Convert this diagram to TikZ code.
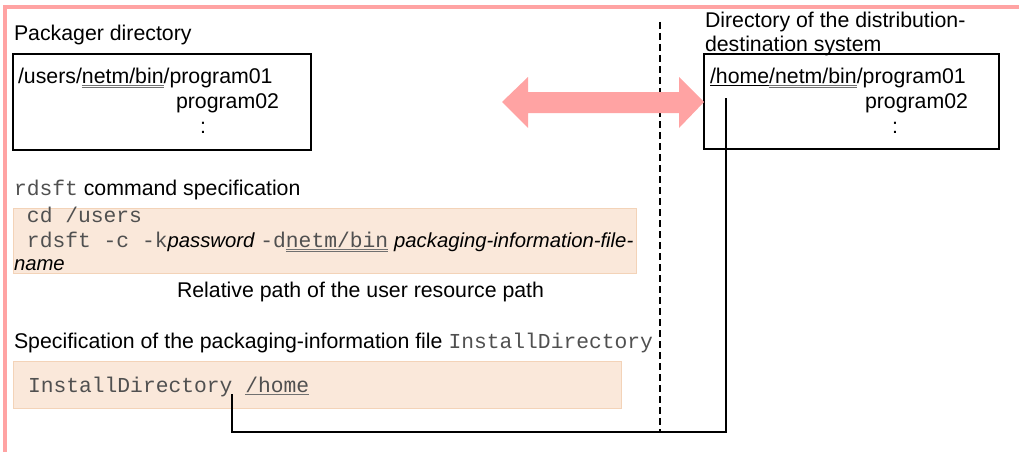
\documentclass[tikz,border=0pt]{standalone}
\usepackage{fontspec}
\setmainfont{Liberation Sans}
\setsansfont{Liberation Sans}
\setmonofont{Liberation Mono}
\definecolor{framepink}{HTML}{FFA3A3}
\definecolor{arrowpink}{HTML}{FFA3A3}
\definecolor{peachfill}{HTML}{FAE8DA}
\definecolor{peachline}{HTML}{F3D3B8}
\definecolor{ulgray}{HTML}{707070}
\definecolor{monogray}{HTML}{505050}
\newsavebox\myulbox
\newcommand{\myul}[1]{\sbox\myulbox{#1}\rlap{\color{black}\rule[-2.6pt]{\wd\myulbox}{0.9pt}}\usebox\myulbox}
\newcommand{\mygul}[1]{\sbox\myulbox{#1}\rlap{\color{ulgray}\rule[-2.8pt]{\wd\myulbox}{0.9pt}}\usebox\myulbox}
\newcommand{\mydul}[1]{\sbox\myulbox{#1}\rlap{\color{ulgray}\rule[-2.6pt]{\wd\myulbox}{0.7pt}}\rlap{\color{ulgray}\rule[-5.1pt]{\wd\myulbox}{0.7pt}}\usebox\myulbox}
\newcommand{\mono}[1]{{\ttfamily\color{monogray}#1}}
\newcommand{\argit}[1]{{\fontsize{20.3}{25}\selectfont\itshape #1}}
\begin{document}
\begin{tikzpicture}[x=1pt,y=-1pt,
  txt/.style={anchor=base west,inner sep=0pt,outer sep=0pt,font=\fontsize{21.3}{25}\selectfont},
  dirbox/.style={draw=black,line width=1.4pt},
  codebox/.style={fill=peachfill,draw=peachline,line width=1pt},
  link/.style={draw=black,line width=1.4pt},
  sep/.style={draw=black,line width=1.4pt,dash pattern=on 7pt off 4pt}]
\useasboundingbox (0,0) rectangle (1019,452);
% frame
\fill[framepink] (3,5) rectangle (1019,9);
\fill[framepink] (3,5) rectangle (7,452);
% separator
\draw[sep] (660,22) -- (660,432);
% boxes
\draw[dirbox] (13,54) rectangle (311,150);
\draw[dirbox] (704,54) rectangle (999,149);
\draw[codebox] (13,208) rectangle (636,273);
\draw[codebox] (13,361) rectangle (621,408);
% arrow
\fill[arrowpink] (502,102) -- (528,77) -- (528,92) -- (679,92) -- (679,77) -- (704,102) -- (679,128) -- (679,113) -- (528,113) -- (528,128) -- cycle;
% texts
\node[txt] (t1) at (14,41) {Packager directory};
\node[txt] (l1) at (18,83) {/users/\mydul{netm/bin}/program01};
\node[txt] (l2) at (176,108) {program02};
\node[txt] (l3) at (200,133) {:};
\node[txt] (t2a) at (705,28) {Directory of the distribution-};
\node[txt] (t2b) at (705,52) {destination system};
\node[txt] (r1) at (710,83) {\myul{/home}\mydul{/netm/bin}/program01};
\node[txt] (r2) at (865,108) {program02};
\node[txt] (r3) at (892,133) {:};
\node[txt] (t3) at (14,195) {\mono{rdsft} command specification};
\node[txt] (c1) at (27,222) {\mono{cd /users}};
\node[txt] (c2) at (27,247) {\mono{rdsft -c -k}\argit{password} \mono{-d}{\color{monogray}\mydul{\ttfamily netm/bin}} \argit{packaging-information-file-}};
\node[txt] (c3) at (14,270) {\argit{name}};
\node[txt] (rel) at (177,297) {Relative path of the user resource path};
\node[txt] (t4) at (14,348) {Specification of the packaging-information file \mono{InstallDirectory}};
\node[txt] (i1) at (28,392) {\mono{InstallDirectory \mygul{/home}}};
% connector
\coordinate (cs) at (726,98);
\coordinate (ce) at (232,394);
\draw[link] (cs) |- (ce |- 0,432) -- (ce);
\end{tikzpicture}
\end{document}
